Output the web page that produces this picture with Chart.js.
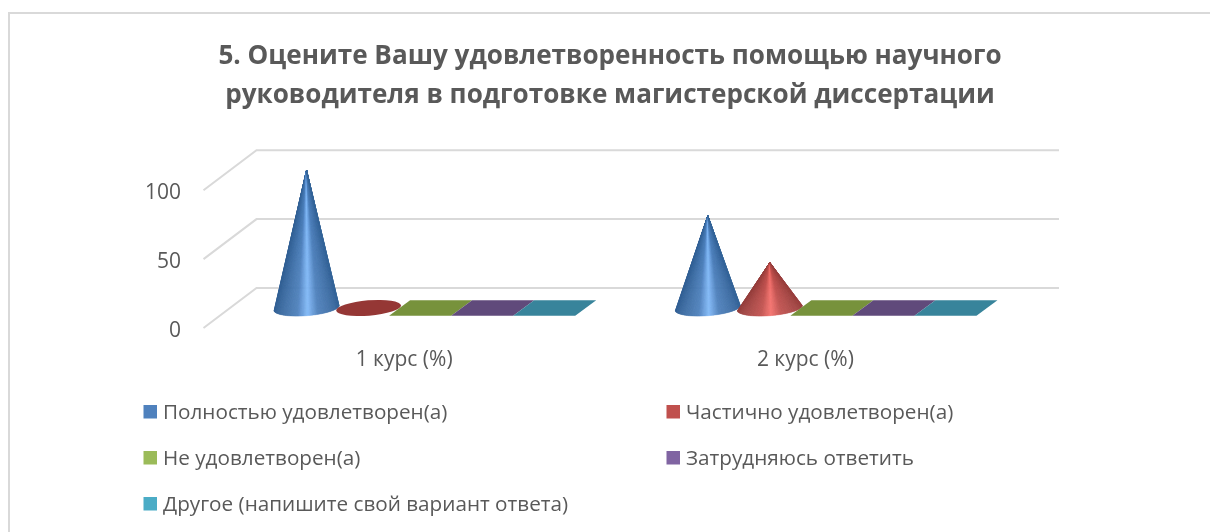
<!DOCTYPE html>
<html lang="ru">
<head>
<meta charset="utf-8">
<title>Удовлетворенность помощью научного руководителя</title>
<script src="https://cdn.jsdelivr.net/npm/chart.js@4/dist/chart.umd.min.js"></script>
<style>
    html, body { margin: 0; padding: 0; background: #fff; }
    #wrap { position: relative; width: 1210px; height: 532px; overflow: hidden; }
</style>
</head>
<body>
<div id="wrap"><canvas id="chart" width="1210" height="532"></canvas></div>
<script>
const categories = ["1 курс (%)", "2 курс (%)"];
const seriesNames = [
    "Полностью удовлетворен(а)",
    "Частично удовлетворен(а)",
    "Не удовлетворен(а)",
    "Затрудняюсь ответить",
    "Другое (напишите свой вариант ответа)",
];
const fullySatisfied = [100, 67];
const partlySatisfied = [0, 33];
const notSatisfied = [0, 0];
const hardToSay = [0, 0];
const other = [0, 0];
const yTicks = [0, 50, 100];
const titleLines = [
    "5. Оцените Вашу удовлетворенность помощью научного",
    "руководителя в подготовке магистерской диссертации",
];

const seriesValues = [fullySatisfied, partlySatisfied, notSatisfied, hardToSay, other];
const legendColors = ["#4f81bd", "#c0504d", "#9bbb59", "#8064a2", "#4bacc6"];
const flatColors = ["#4f81bd", "#953735", "#77923c", "#604a7b", "#38849b"];
const shapes = ["cone", "cone", "box", "box", "box"];
// цвета тени конуса: край, середина, блик
const coneShades = [
    [[50, 96, 148], [76, 127, 187], [128, 184, 248]],
    [[148, 62, 60], [192, 80, 77], [244, 112, 108]],
];

const textColor = "#595959";
const gridColor = "#d9d9d9";
const depthX = 53;   // сдвиг задней стенки
const depthY = 40;

function mixColor(a, b, t) {
    const c = a.map((v, i) => Math.round(v + (b[i] - v) * t));
    return `rgb(${c[0]},${c[1]},${c[2]})`;
}

// 0..1 поперек конуса -> цвет
function coneColor(shade, t) {
    const d = Math.abs(t - 0.52) / 0.52;
    if (d < 0.3) return mixColor(shade[2], shade[1], d / 0.3);
    return mixColor(shade[1], shade[0], (d - 0.3) / 0.7);
}

function drawCone(ctx, cx, cy, baseY, rx, ry, tilt, shade, flatColor) {
    const cos = Math.cos(tilt);
    const sin = Math.sin(tilt);
    if (Math.abs(baseY - cy) < 1) {
        ctx.fillStyle = flatColor;
        ctx.beginPath();
        ctx.ellipse(cx, baseY, rx, ry, tilt, 0, Math.PI * 2);
        ctx.fill();
        return;
    }
    const steps = 120;
    const point = (a) => [
        cx + rx * Math.cos(a) * cos - ry * Math.sin(a) * sin,
        baseY + rx * Math.cos(a) * sin + ry * Math.sin(a) * cos,
    ];
    for (let i = 0; i < steps; i++) {
        const a0 = Math.PI - (Math.PI * i) / steps;
        const a1 = Math.PI - (Math.PI * (i + 1)) / steps;
        const p0 = point(a0);
        const p1 = point(a1);
        const color = coneColor(shade, ((p0[0] + p1[0]) / 2 - (cx - rx)) / (2 * rx));
        ctx.fillStyle = color;
        ctx.strokeStyle = color;
        ctx.lineWidth = 0.4;
        ctx.beginPath();
        ctx.moveTo(cx, cy);
        ctx.lineTo(p0[0], p0[1]);
        ctx.lineTo(p1[0], p1[1]);
        ctx.closePath();
        ctx.fill();
        ctx.stroke();
    }
}

const frame3d = {
    id: "frame3d",
    afterLayout(chart) {
        // заголовок центрируется по всей рамке, а не по области графика
        chart.titleBlock.left = 0;
        chart.titleBlock.right = 1220;
    },
    beforeDraw(chart) {
        const { ctx } = chart;
        ctx.save();
        ctx.strokeStyle = gridColor;
        ctx.lineWidth = 2;
        // рамка уходит за правый и нижний край снимка
        ctx.strokeRect(9, 13, 1300, 600);
        ctx.restore();
    },
    beforeDatasetsDraw(chart) {
        const { ctx, chartArea, scales } = chart;
        ctx.save();
        ctx.strokeStyle = gridColor;
        ctx.lineWidth = 2;
        yTicks.forEach((tick) => {
            const y = scales.y.getPixelForValue(tick);
            ctx.beginPath();
            ctx.moveTo(chartArea.left, y);
            ctx.lineTo(chartArea.left + depthX, y - depthY);
            ctx.lineTo(chartArea.right + depthX, y - depthY);
            ctx.stroke();
        });
        ctx.restore();
    },
    afterDatasetsDraw(chart) {
        const { ctx, scales } = chart;
        const base = scales.y.getPixelForValue(0);
        ctx.save();
        chart.data.datasets.forEach((dataset, s) => {
            chart.getDatasetMeta(s).data.forEach((bar) => {
                const cx = bar.x + depthX / 2;
                const floorY = base - depthY / 2;
                const top = bar.y - depthY / 2;
                if (shapes[s] === "cone") {
                    drawCone(ctx, cx, top, floorY, bar.width / 2 + 1.5, 7.7, -0.08,
                        coneShades[s], flatColors[s]);
                } else {
                    const halfW = bar.width / 2;
                    const dx = 10.5;
                    const dy = 7.8;
                    ctx.fillStyle = flatColors[s];
                    ctx.beginPath();
                    ctx.moveTo(cx - halfW - dx, floorY + dy);
                    ctx.lineTo(cx + halfW - dx, floorY + dy);
                    ctx.lineTo(cx + halfW + dx, floorY - dy);
                    ctx.lineTo(cx - halfW + dx, floorY - dy);
                    ctx.closePath();
                    ctx.fill();
                }
            });
        });
        ctx.restore();
    },
    afterDraw(chart) {
        // легенда в две колонки, обычная легенда так не раскладывает
        const { ctx } = chart;
        const columns = [143.5, 666.5];
        const rows = [412, 458, 504];
        ctx.save();
        ctx.font = "20.7px 'Open Sans'";
        ctx.textBaseline = "middle";
        chart.data.datasets.forEach((dataset, s) => {
            const x = columns[s % 2];
            const y = rows[Math.floor(s / 2)];
            ctx.fillStyle = legendColors[s];
            ctx.fillRect(x, y - 7, 13.5, 13.5);
            ctx.fillStyle = textColor;
            ctx.fillText(dataset.label, x + 19.5, y + 1);
        });
        ctx.restore();
    },
};

new Chart(document.getElementById("chart"), {
    type: "bar",
    data: {
        labels: categories,
        datasets: seriesNames.map((name, i) => ({
            label: name,
            data: seriesValues[i],
            backgroundColor: "rgba(0,0,0,0)",
            borderWidth: 0,
            categoryPercentage: 0.773,
            barPercentage: 1,
        })),
    },
    options: {
        responsive: false,
        animation: false,
        layout: { padding: { left: 10, right: 204, top: 0, bottom: 144 } },
        plugins: {
            legend: { display: false },
            tooltip: { enabled: false },
            title: {
                display: true,
                text: titleLines,
                color: textColor,
                font: { family: "'Open Sans'", size: 26.1, weight: "bold", lineHeight: 1.46 },
                padding: { top: 38, bottom: 76 },
            },
        },
        scales: {
            x: {
                afterFit: (scale) => { scale.height = 60; },
                grid: { display: false, drawTicks: false },
                border: { display: false },
                ticks: { color: textColor, font: { family: "'Open Sans'", size: 21 }, padding: 19 },
            },
            y: {
                min: 0,
                max: 100,
                afterFit: (scale) => { scale.width = 193.5; },
                afterBuildTicks: (scale) => { scale.ticks = yTicks.map((value) => ({ value })); },
                grid: { display: false, drawTicks: false },
                border: { display: false },
                ticks: { color: textColor, font: { family: "'Open Sans'", size: 21 }, padding: 22.5, labelOffset: 3 },
            },
        },
    },
    plugins: [frame3d],
});
</script>
</body>
</html>
